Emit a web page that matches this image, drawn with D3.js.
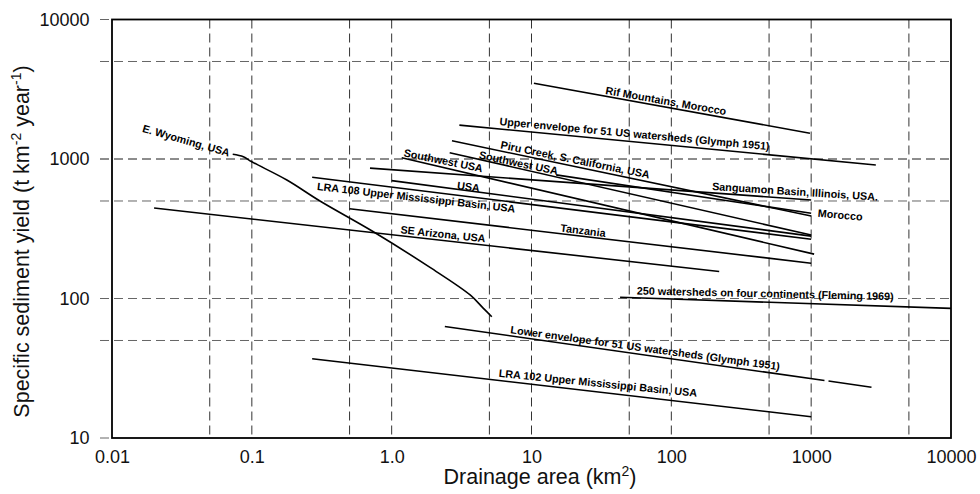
<!DOCTYPE html>
<html>
<head>
<meta charset="utf-8">
<script src="https://cdn.jsdelivr.net/npm/d3@7"></script>
<style>
  body { margin: 0; background: #fff; }
  svg { display: block; font-family: "Liberation Sans", Arial, Helvetica, sans-serif; }
</style>
</head>
<body>
<svg width="980" height="494"></svg>
<script>
// ticks + grid
const xTicks = [0.01, 0.1, 1, 10, 100, 1000, 10000];
const xTickLabels = ["0.01", "0.1", "1.0", "10", "100", "1000", "10000"];
const yTicks = [10, 100, 1000, 10000];
const xGrid = [0.05, 0.1, 0.5, 1, 5, 10, 50, 100, 500, 1000, 5000];
const yGrid = [50, 100, 500, 1000, 5000];

// series: [drainage area (km2), specific sediment yield]
const rifMountains = [[10.4, 3490], [980, 1530]];
const upperEnvelope = [[3.05, 1750], [2900, 905]];
const piruCreek = [[2.7, 1350], [1000, 390]];
const morocco = [[15, 770], [1000, 408]];
const southwestUSA2 = [[2.6, 1110], [1000, 285]];
const southwestUSA1 = [[1.18, 1020], [1050, 208]];
const sanguamon = [[0.7, 860], [1000, 508]];
const usa = [[1.0, 700], [1000, 280]];
const lra108 = [[0.27, 740], [1000, 266]];
const tanzania = [[0.5, 440], [1000, 179]];
const seArizona = [[0.02, 445], [220, 156]];
const fleming = [[43, 102], [10000, 85]];
const lowerEnvelope = [[2.4, 63], [1245, 25.8]];
const lowerEnvelopeEnd = [[1330, 25.6], [2700, 23.1]];
const lra102 = [[0.27, 37], [1000, 14.2]];
const eWyoming = [[0.073, 1081], [0.087, 1039], [0.1, 955], [0.178, 707], [0.307, 500],
                  [0.74, 301], [1.88, 167], [3.64, 106], [4.53, 85], [5.2, 74]];

const straightLines = [rifMountains, upperEnvelope, piruCreek, morocco, southwestUSA2,
  southwestUSA1, sanguamon, usa, lra108, tanzania, seArizona, fleming,
  lowerEnvelope, lowerEnvelopeEnd, lra102];

// labels: text, area, yield (start of baseline), angle
const labels = [
  ["Rif Mountains, Morocco", 33.6, 2924, 10],
  ["Upper envelope for 51 US watersheds (Glymph 1951)", 5.87, 1752, 5.3],
  ["Piru Creek, S. California, USA", 5.96, 1193, 11.5],
  ["Southwest USA", 4.17, 1012, 12],
  ["Southwest USA", 1.21, 1045, 11.5],
  ["USA", 2.92, 609, 7.5],
  ["LRA 108 Upper Mississippi Basin, USA", 0.291, 600, 6.5],
  ["SE Arizona, USA", 1.15, 293, 6],
  ["Tanzania", 16, 302, 7],
  ["Sanguamon Basin, Illinois, USA.", 195, 600, 3.7],
  ["Morocco", 1109, 386, 5],
  ["250 watersheds on four continents (Fleming 1969)", 56.6, 107, 1.3],
  ["Lower envelope for 51 US watersheds (Glymph 1951)", 7.03, 56.3, 7.8],
  ["LRA 102 Upper Mississippi Basin, USA", 5.8, 27.5, 5.8],
  ["E. Wyoming, USA", 0.0163, 1570, 16]
];

const svg = d3.select("svg");
const mLeft = 112, mRight = 951, mTop = 19.5, mBottom = 438;

const x = d3.scaleLog().domain([0.01, 10000]).range([mLeft, mRight]);
const y = d3.scaleLog().domain([10, 10000]).range([mBottom, mTop]);

// grid
svg.append("g").selectAll("line")
  .data(yGrid.concat(yTicks))
  .enter().append("line")
  .attr("x1", mLeft - 12).attr("x2", d => (d === 10 || d === 10000) ? mLeft : mRight)
  .attr("y1", d => y(d)).attr("y2", d => y(d))
  .attr("stroke", "#666").attr("stroke-width", 1)
  .attr("stroke-dasharray", "9,5");

svg.append("g").selectAll("line")
  .data(xGrid)
  .enter().append("line")
  .attr("x1", d => x(d)).attr("x2", d => x(d))
  .attr("y1", mTop).attr("y2", mBottom)
  .attr("stroke", "#333").attr("stroke-width", 1)
  .attr("stroke-dasharray", "9,5");

// frame
svg.append("rect")
  .attr("x", mLeft).attr("y", mTop)
  .attr("width", mRight - mLeft).attr("height", mBottom - mTop)
  .attr("fill", "none").attr("stroke", "#000").attr("stroke-width", 1.8);

// axes
svg.append("g")
  .attr("transform", `translate(0,${mBottom})`)
  .call(d3.axisBottom(x).tickValues(xTicks).tickFormat((d, i) => xTickLabels[i]).tickSize(0).tickPadding(12))
  .call(g => g.select(".domain").remove())
  .attr("font-size", 18).attr("font-family", null)
  .selectAll("text").attr("fill", "#111");

svg.append("g")
  .attr("transform", `translate(${mLeft},0)`)
  .call(d3.axisLeft(y).tickValues(yTicks).tickFormat(d3.format("d")).tickSize(0).tickPadding(22.5))
  .call(g => g.select(".domain").remove())
  .attr("font-size", 18).attr("font-family", null)
  .selectAll("text").attr("fill", "#111");

// data lines
const line = d3.line().x(d => x(d[0])).y(d => y(d[1]));

svg.append("g").selectAll("path")
  .data(straightLines)
  .enter().append("path")
  .attr("d", line)
  .attr("fill", "none").attr("stroke", "#000").attr("stroke-width", 1.6);

// E. Wyoming is the only curved one
svg.append("path")
  .attr("d", d3.line().x(d => x(d[0])).y(d => y(d[1])).curve(d3.curveCatmullRom.alpha(0.5))(eWyoming))
  .attr("fill", "none").attr("stroke", "#000").attr("stroke-width", 1.6);

// labels
svg.append("g").selectAll("text")
  .data(labels)
  .enter().append("text")
  .attr("transform", d => `translate(${x(d[1])},${y(d[2])}) rotate(${d[3]})`)
  .attr("font-size", 10.8)
  .attr("font-weight", "bold")
  .attr("fill", "#000")
  .text(d => d[0]);

// axis titles
const xt = svg.append("text")
  .attr("x", 540).attr("y", 484)
  .attr("text-anchor", "middle")
  .attr("font-size", 21.5).attr("fill", "#111");
xt.append("tspan").text("Drainage area (km");
xt.append("tspan").attr("font-size", 14).attr("dy", -8).text("2");
xt.append("tspan").attr("dy", 8).text(")");

const yt = svg.append("text")
  .attr("transform", "translate(29,241.5) rotate(-90)")
  .attr("text-anchor", "middle")
  .attr("font-size", 21.5).attr("fill", "#111");
yt.append("tspan").text("Specific sediment yield (t km");
yt.append("tspan").attr("font-size", 14).attr("dy", -8).text("-2");
yt.append("tspan").attr("dy", 8).text(" year");
yt.append("tspan").attr("font-size", 14).attr("dy", -8).text("-1");
yt.append("tspan").attr("dy", 8).text(")");
</script>
</body>
</html>
